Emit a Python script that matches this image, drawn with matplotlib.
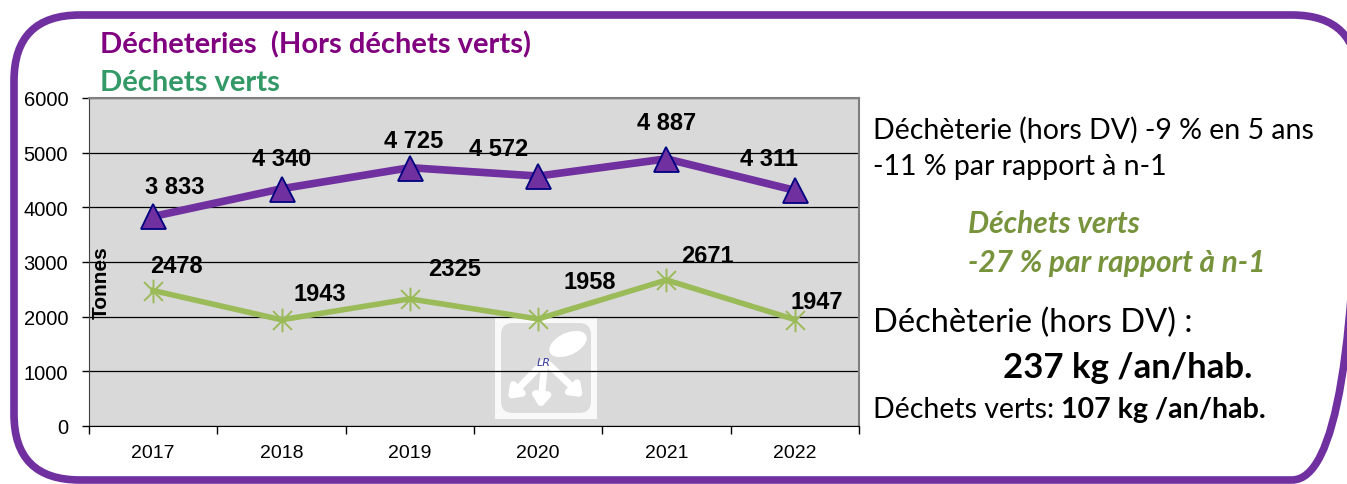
import matplotlib
matplotlib.use("Agg")
import matplotlib.pyplot as plt
from matplotlib.patches import FancyBboxPatch, Rectangle, Ellipse
from matplotlib.path import Path
from matplotlib.transforms import Affine2D

# ---- data ----
years = ["2017", "2018", "2019", "2020", "2021", "2022"]
decheterie = [3833, 4340, 4725, 4572, 4887, 4311]
dechets_verts = [2478, 1943, 2325, 1958, 2671, 1947]
y_ticks = [0, 1000, 2000, 3000, 4000, 5000, 6000]

# label offsets (pixels, style only)
off_dech = [(22, 30), (0, 30), (4, 27), (-40, 28), (0, 36), (-26, 32)]
off_dv = [(23, 25), (38, 26), (45, 30), (52, 37), (41, 24), (22, 18)]

W, H = 1347, 485
fig = plt.figure(figsize=(W / 100, H / 100), dpi=100)
fig.patch.set_facecolor("white")
PX = Affine2D().scale(1 / W, -1 / H).translate(0, 1) + fig.transFigure

PURPLE = "#7030a0"
GREEN = "#9bbb59"

# ---- outer frame ----
frame = FancyBboxPatch((14, 16), 1344, 465, boxstyle="round,pad=0,rounding_size=66",
                       transform=PX, fill=False, edgecolor=PURPLE, linewidth=5.5,
                       clip_on=False)
fig.patches.append(frame)

# ---- axes ----
ax = fig.add_axes([89 / W, 58 / H, 770 / W, 328 / H])
ax.set_facecolor("#d9d9d9")
x = list(range(len(years)))

ax.plot(x, decheterie, color=PURPLE, linewidth=5.5, zorder=3, solid_capstyle="butt")
ax.plot(x, decheterie, linestyle="none", marker="^", markersize=18,
        markerfacecolor=PURPLE, markeredgecolor="#000080", markeredgewidth=1.3, zorder=4)

star = Path([(0, -1), (0, 1), (-0.8, -0.8), (0.8, 0.8), (-0.8, 0.8), (0.8, -0.8)],
            [Path.MOVETO, Path.LINETO, Path.MOVETO, Path.LINETO, Path.MOVETO, Path.LINETO])
ax.plot(x, dechets_verts, color=GREEN, linewidth=4, zorder=3)
ax.plot(x, dechets_verts, linestyle="none", marker=star, markersize=17,
        markeredgecolor=GREEN, markerfacecolor="none", markeredgewidth=1.4, zorder=4)

for xi, v, (dx, dy) in zip(x, decheterie, off_dech):
    ax.annotate(f"{v:,}".replace(",", " "), (xi, v), xytext=(dx, dy),
                textcoords="offset pixels", ha="center", va="center",
                fontsize=17, fontweight="bold", family="Liberation Sans",
                color="black", zorder=5)
for xi, v, (dx, dy) in zip(x, dechets_verts, off_dv):
    ax.annotate(f"{v}", (xi, v), xytext=(dx, dy),
                textcoords="offset pixels", ha="center", va="center",
                fontsize=17, fontweight="bold", family="Liberation Sans",
                color="black", zorder=5)

ax.set_xlim(-0.5, len(years) - 0.5)
ax.set_ylim(0, 6000)
ax.set_yticks(y_ticks)
ax.set_yticklabels([str(t) for t in y_ticks], fontsize=14.5, family="Liberation Sans")
ax.set_xticks(x)
ax.set_xticklabels(years, fontsize=14, family="Liberation Sans")
ax.set_xticks([i - 0.5 for i in range(len(years) + 1)], minor=True)
ax.tick_params(axis="x", which="major", length=0, pad=13)
ax.tick_params(axis="x", which="minor", length=6, width=1, color="black", direction="out")
ax.tick_params(axis="y", length=5, width=1, color="black", direction="out", pad=10)
ax.yaxis.grid(True, color="black", linewidth=0.9)
ax.set_axisbelow(True)
for s in ["top", "right"]:
    ax.spines[s].set_color("#808080")
    ax.spines[s].set_linewidth(1.5)
ax.spines["left"].set_color("#404040")
ax.spines["bottom"].set_color("black")

ax.text(101, 283, "Tonnes", transform=PX, rotation=90, ha="center", va="center",
        fontsize=15, fontweight="bold", family="Liberation Sans", zorder=5)

# ---- logo (watermark) ----
ax.add_patch(Rectangle((495, 318), 102, 102, transform=PX, facecolor="white",
                       edgecolor="none", alpha=0.85, zorder=0.3))
ax.add_patch(FancyBboxPatch((501, 324), 90, 90, boxstyle="round,pad=0,rounding_size=12",
                            transform=PX, facecolor="#dcdcdc", edgecolor="none", zorder=0.35))
for (x0, y0, x1, y1) in [(545, 362, 506, 402), (545, 362, 540, 412), (545, 362, 585, 400)]:
    ax.annotate("", xy=(x1, y1), xytext=(x0, y0), xycoords=PX, textcoords=PX,
                arrowprops=dict(arrowstyle="-|>,head_length=0.6,head_width=0.45",
                                color="white", lw=5), zorder=0.4)
ax.add_patch(Ellipse((568, 345), 40, 22, angle=-25, transform=PX, facecolor="white",
                     edgecolor="none", zorder=0.4))
ax.text(544, 363, "LR", transform=PX, fontsize=8, style="italic", color="#3a3aa0",
        ha="center", va="center", zorder=0.45)

# ---- titles ----
fig.text(100 / W, 1 - 45 / H, "Décheteries  (Hors déchets verts)", fontsize=21,
         fontweight="bold", family="Lato", color="#800080", ha="left", va="center")
fig.text(100 / W, 1 - 83 / H, "Déchets verts", fontsize=21,
         fontweight="bold", family="Lato", color="#339966", ha="left", va="center")

# ---- right-hand commentary ----
fig.text(873 / W, 1 - 130 / H, "Déchèterie (hors DV) -9 % en 5 ans", fontsize=20.5,
         family="Lato", ha="left", va="center")
fig.text(873 / W, 1 - 167 / H, "-11 % par rapport à n-1", fontsize=20.5,
         family="Lato", ha="left", va="center")
fig.text(968 / W, 1 - 224 / H, "Déchets verts", fontsize=21.5, family="Lato",
         fontweight="bold", style="italic", color="#77933c", ha="left", va="center")
fig.text(968 / W, 1 - 263 / H, "-27 % par rapport à n-1", fontsize=21.5, family="Lato",
         fontweight="bold", style="italic", color="#77933c", ha="left", va="center")
fig.text(873 / W, 1 - 323 / H, "Déchèterie (hors DV) :", fontsize=23.5,
         family="Lato", ha="left", va="center")
fig.text(1003 / W, 1 - 368 / H, "237 kg /an/hab.", fontsize=25, fontweight="bold",
         family="Lato", ha="left", va="center")
t1 = fig.text(873 / W, 1 - 410 / H, "Déchets verts: ", fontsize=20.5,
              family="Lato", ha="left", va="center")
fig.canvas.draw()
bb = t1.get_window_extent()
fig.text(bb.x1 / W, 1 - 410 / H, "107 kg /an/hab.", fontsize=20.5, fontweight="bold",
         family="Lato", ha="left", va="center")

fig.savefig("out.png", dpi=100)
